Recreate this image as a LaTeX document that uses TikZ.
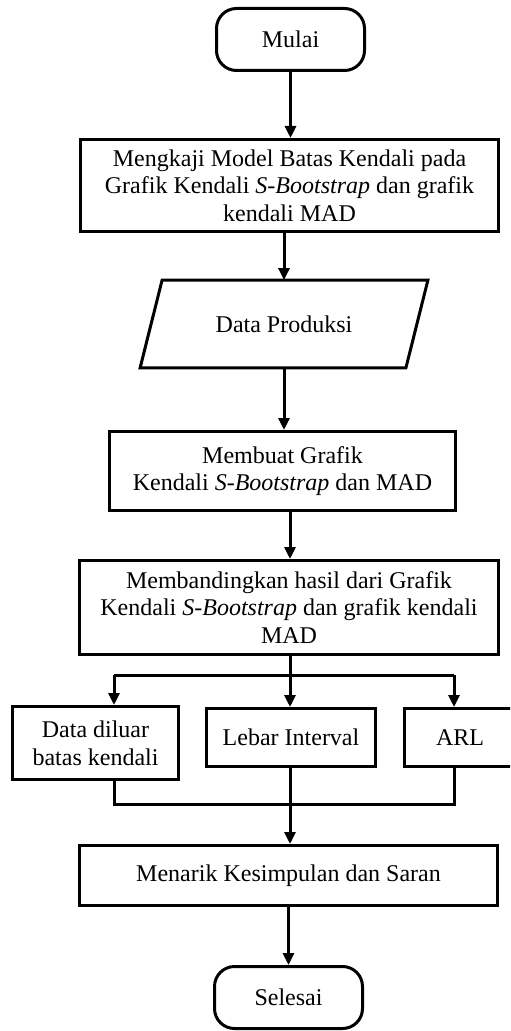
\documentclass[tikz,border=0pt]{standalone}
\usepackage{fontspec}
\setmainfont{Liberation Serif}
\usetikzlibrary{arrows.meta,calc}

\begin{document}
\begin{tikzpicture}[x=0.5pt,y=-0.5pt,
    every node/.style={font=\fontsize{12}{13.8}\selectfont,align=center,inner sep=0pt},
    kotak/.style={draw,line width=1.5pt},
    terminal/.style={draw,line width=1.5pt,rounded corners=10pt,minimum width=74pt,minimum height=31pt},
    garis/.style={line width=1.5pt},
    panah/.style={line width=1.5pt,-{Triangle[length=6pt,width=5.5pt]}}]
  \useasboundingbox (0,0) rectangle (510,1031);
  \clip (0,0) rectangle (510,1031);

  \node[terminal] (mulai) at (290.5,39.5) {Mulai};
  \node[kotak,minimum width=209pt,minimum height=46pt] (kaji) at (289.5,185.5)
    {Mengkaji Model Batas Kendali pada\\Grafik Kendali \textit{S-Bootstrap} dan grafik\\kendali MAD};
  \node[minimum width=143.5pt,minimum height=43.5pt] (data) at (284,324) {Data Produksi};
  \draw[garis] ($(data.north west)+(22,0)$) -- (data.north east)
    -- ($(data.south east)-(22,0)$) -- (data.south west) -- cycle;
  \node[kotak,minimum width=173pt,minimum height=39.5pt] (buat) at (282.5,471)
    {Membuat Grafik\\Kendali \textit{S-Bootstrap} dan MAD};
  \node[kotak,minimum width=209.5pt,minimum height=47pt] (banding) at (289,607.5)
    {Membandingkan hasil dari Grafik\\Kendali \textit{S-Bootstrap} dan grafik kendali\\MAD};
  \node[kotak,minimum width=83pt,minimum height=36.5pt] (luar) at (95.5,743) {Data diluar\\batas kendali};
  \node[kotak,minimum width=84.5pt,minimum height=29pt] (lebar) at (291,737.5) {Lebar Interval};
  \node[kotak,minimum width=55.5pt,minimum height=29pt] (arl) at (460,737.5) {ARL};
  \node[kotak,minimum width=209pt,minimum height=30pt] (tarik) at (288.5,875.5) {Menarik Kesimpulan dan Saran};
  \node[terminal] (selesai) at (288.5,997.5) {Selesai};

  \coordinate (cabang) at (290,675);
  \coordinate (kiri) at (114,675);
  \coordinate (kanan) at (454,675);
  \coordinate (gabung) at (290,804);

  \draw[panah] (mulai.south) -- (mulai.south |- kaji.north);
  \draw[panah] (kaji.south -| data.north) -- (data.north);
  \draw[panah] (data.south) -- (data.south |- buat.north);
  \draw[panah] (buat.south -| cabang) -- (banding.north -| cabang);
  \draw[garis] (banding.south -| cabang) -- (cabang);
  \draw[garis] (kiri) -- (kanan);
  \draw[panah] (kiri) -- (kiri |- luar.north);
  \draw[panah] (cabang) -- (cabang |- lebar.north);
  \draw[panah] (kanan) -- (kanan |- arl.north);
  \draw[garis] (luar.south -| kiri) -- (kiri |- gabung) -- (kanan |- gabung) -- (arl.south -| kanan);
  \draw[panah] (lebar.south -| gabung) -- (tarik.north -| gabung);
  \draw[panah] (tarik.south) -- (selesai.north);
\end{tikzpicture}
\end{document}
